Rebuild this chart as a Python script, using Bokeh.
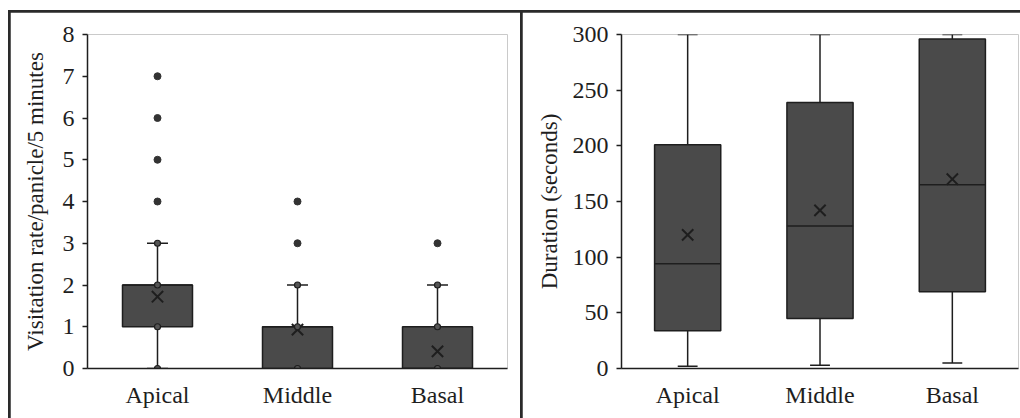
from bokeh.plotting import figure
from bokeh.models import ColumnDataSource, FactorRange, Range1d, FixedTicker
from bokeh.transform import dodge
from bokeh.layouts import row
from bokeh.embed import file_html
from bokeh.resources import INLINE

# ---------------- data ----------------
categories = ["Apical", "Middle", "Basal"]

# Left panel: visitation rate
rate_q1 = [1, 0, 0]
rate_median = [2, 1, 0]
rate_q3 = [2, 1, 1]
rate_low = [0, 0, 0]
rate_high = [3, 2, 2]
rate_mean = [1.72, 0.93, 0.41]
rate_inner_cat = ["Apical"] * 4 + ["Middle"] * 3 + ["Basal"] * 3
rate_inner_val = [0, 1, 2, 3, 0, 1, 2, 0, 1, 2]
rate_out_cat = ["Apical"] * 4 + ["Middle"] * 2 + ["Basal"]
rate_out_val = [4, 5, 6, 7, 3, 4, 3]
rate_ticks = [0, 1, 2, 3, 4, 5, 6, 7, 8]

# Right panel: duration
dur_q1 = [34, 45, 69]
dur_median = [94, 128, 165]
dur_q3 = [201, 239, 296]
dur_low = [2, 3, 5]
dur_high = [300, 300, 300]
dur_mean = [120, 142, 170]
dur_ticks = [0, 50, 100, 150, 200, 250, 300]

FONT = "Liberation Serif"
INK = "#1e1e1e"
BOX = "#4a4a4a"


def make_panel(width, height, ylabel, ymax, ticks, q1, med, q3, lo, hi, mean,
               mb_left, mb_right, mb_top, mb_bottom, label_standoff):
    p = figure(width=width, height=height, x_range=FactorRange(*categories, range_padding=0),
               y_range=Range1d(0, ymax), output_backend="svg", toolbar_location=None,
               min_border_left=mb_left, min_border_right=mb_right,
               min_border_top=mb_top, min_border_bottom=mb_bottom)
    p.xgrid.visible = False
    p.ygrid.visible = False
    p.outline_line_color = None
    p.background_fill_color = "white"
    p.border_fill_color = "white"

    src = ColumnDataSource(dict(cat=categories, q1=q1, med=med, q3=q3, lo=lo, hi=hi, mean=mean))
    # whiskers
    p.segment(x0="cat", y0="q3", x1="cat", y1="hi", source=src, line_color=INK, line_width=1.5)
    p.segment(x0="cat", y0="lo", x1="cat", y1="q1", source=src, line_color=INK, line_width=1.5)
    # caps
    for fld in ("hi", "lo"):
        p.segment(x0=dodge("cat", -0.075, range=p.x_range), y0=fld,
                  x1=dodge("cat", 0.075, range=p.x_range), y1=fld,
                  source=src, line_color=INK, line_width=1.5)
    # boxes
    p.vbar(x="cat", top="q3", bottom="q1", width=0.5, source=src,
           fill_color=BOX, line_color=INK, line_width=1.5)
    # median
    p.segment(x0=dodge("cat", -0.25, range=p.x_range), y0="med",
              x1=dodge("cat", 0.25, range=p.x_range), y1="med",
              source=src, line_color=INK, line_width=1.5)
    # mean
    p.scatter(x="cat", y="mean", source=src, marker="x", size=16,
              line_color=INK, line_width=2)

    ax = p.xaxis[0]
    ax.major_tick_out = 0
    ax.major_tick_in = 0
    ax.minor_tick_out = 0
    ax.axis_line_color = INK
    ax.axis_line_width = 1.5
    ax.major_label_text_font = FONT
    ax.major_label_text_font_size = "24px"
    ax.major_label_text_color = INK
    ax.major_label_standoff = 13

    ay = p.yaxis[0]
    ay.ticker = FixedTicker(ticks=ticks)
    ay.major_tick_out = 5
    ay.major_tick_in = 0
    ay.minor_tick_out = 0
    ay.minor_tick_in = 0
    ay.major_tick_line_color = INK
    ay.major_tick_line_width = 1.5
    ay.axis_line_color = INK
    ay.axis_line_width = 1.5
    ay.major_label_text_font = FONT
    ay.major_label_text_font_size = "24px"
    ay.major_label_text_color = INK
    ay.major_label_standoff = 8
    ay.axis_label = ylabel
    ay.axis_label_text_font = FONT
    ay.axis_label_text_font_size = "23px"
    ay.axis_label_text_font_style = "normal"
    ay.axis_label_text_color = INK
    ay.axis_label_standoff = label_standoff
    return p


p1 = make_panel(510, 406, "Visitation rate/panicle/5 minutes", 8, rate_ticks,
                rate_q1, rate_median, rate_q3, rate_low, rate_high, rate_mean,
                77, 13, 21, 50, 12)
# points on left panel
p1.scatter(x=rate_inner_cat, y=rate_inner_val, marker="circle", size=6,
           fill_color="#555555", line_color=INK, line_width=1.2)
p1.scatter(x=rate_out_cat, y=rate_out_val, marker="circle", size=7,
           fill_color="#333333", line_color="#333333")

p2 = make_panel(498, 406, "Duration (seconds)", 300, dur_ticks,
                dur_q1, dur_median, dur_q3, dur_low, dur_high, dur_mean,
                99, 2, 22, 50, 8)

p1.margin = (2, 0, 0, 2)
p2.margin = (2, 0, 0, 2)
layout = row(p1, p2, margin=(10, 0, 0, 8), spacing=0,
             styles={"background-color": "#2a2a2a"})

open("out.html", "w").write(file_html(layout, INLINE))
